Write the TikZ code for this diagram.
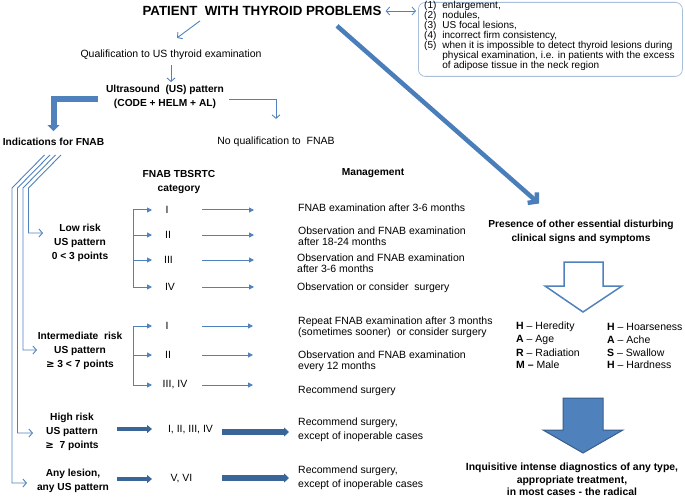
\documentclass[tikz,border=0pt]{standalone}
\usepackage{fontspec}
\setmainfont{Liberation Sans}
\usetikzlibrary{arrows.meta}
\definecolor{lb}{HTML}{4F81BD}
\definecolor{thickb}{HTML}{4A7EBB}
\definecolor{db}{HTML}{3A6598}
\definecolor{boxline}{HTML}{A9BFD9}
\definecolor{arrline}{HTML}{385D8A}
\begin{document}
\begin{tikzpicture}[x=1pt,y=-1pt,
  rt/.style={inner sep=0pt, font=\fontsize{10.5}{11}\selectfont, align=left},
  bt/.style={inner sep=0pt, font=\fontsize{10.2}{14}\selectfont\bfseries, align=center},
  lab/.style={inner sep=0pt, font=\fontsize{10.5}{11}\selectfont},
  tb/.style={draw=lb, line width=0.9pt, -{Straight Barb[length=3.5pt,width=8pt]}},
  br/.style={draw=lb, line width=1pt, -{Triangle[length=5pt,width=5pt]}},
  dsh/.style={draw=db, line width=4pt, -{Triangle[length=5pt,width=8pt]}},
  dlg/.style={draw=db, line width=6pt, -{Triangle[length=5pt,width=9pt]}},
]
\useasboundingbox (0,0) rectangle (685,497);

% title and box
\node[inner sep=0pt, font=\fontsize{13.3}{15}\selectfont\bfseries] (title) at (262,11) {PATIENT\ \ WITH THYROID PROBLEMS};
\node[draw=boxline, line width=0.8pt, rounded corners=7pt, minimum width=264pt, minimum height=74pt, anchor=north west, inner sep=0pt] (box) at (418,2) {};
\node[anchor=north west, inner sep=0pt] (boxtxt) at (424,1.5) {\fontsize{10}{8.7}\selectfont
\begin{tabular}{@{}l@{\hspace{6pt}}l@{}}
(1) & enlargement,\\
(2) & nodules,\\
(3) & US focal lesions,\\
(4) & incorrect firm consistency,\\
(5) & when it is impossible to detect thyroid lesions during\\
    & physical examination, i.e. in patients with the excess\\
    & of adipose tissue in the neck region
\end{tabular}};
\draw[draw=lb, line width=0.8pt, {Straight Barb[length=3.5pt,width=8pt]}-{Straight Barb[length=3.5pt,width=8pt]}]
  ([xshift=4pt]title.east) -- ([xshift=-2pt]box.west |- title.east);

% left top flow
\node[rt, align=center] (qual) at (171,55) {Qualification to US thyroid examination};
\node[bt] (us) at (165,97) {Ultrasound\ \ (US) pattern\\(CODE + HELM + AL)};
\node[bt] (ind) at (53.5,142) {Indications for FNAB};
\node[rt] (noq) at (276,142) {No qualification to\ \ FNAB};
\draw[tb] ([shift={(-62,5)}]title.south) -- ([shift={(6,-12)}]qual.north);
\draw[tb] ([shift={(0,5)}]qual.south) -- ([shift={(6,-3)}]us.north);
\draw[draw=lb, line width=6pt, -{Triangle[length=6pt,width=12pt]}] ([shift={(-8,2)}]us.west) -| ([shift={(0,-7)}]ind.north);
\draw[tb] ([shift={(5,2)}]us.east) -| ([shift={(0,-18)}]noq.north);

% column headers
\node[bt] (cat) at (179,182) {FNAB TBSRTC\\category};
\node[bt] (man) at (373,173) {Management};

% risk groups
\node[bt] (low) at (80,243) {Low risk\\US pattern\\0 < 3 points};
\node[bt] (mid) at (80,351) {Intermediate\ \ risk\\US pattern\\{\fontspec{DejaVu Sans}\bfseries ≥} 3 < 7 points};
\node[bt] (high) at (72,432) {High risk\\US pattern\\{\fontspec{DejaVu Sans}\bfseries ≥}\ \ 7 points};
\node[bt] (any) at (73,481) {Any lesion,\\any US pattern};

% four branching lines
\coordinate (lowin) at (43,233);
\coordinate (midin) at (37,350);
\coordinate (highin) at (33,433);
\coordinate (anyin) at (27,483);
\draw[tb] (61,155) -- (28.5,188) |- (lowin);
\draw[tb] (55.5,155) -- (23,188) |- (midin);
\draw[tb] (50,155) -- (17.5,188) |- (highin);
\draw[tb] (44.5,155) -- (12,188) |- (anyin);

% low risk rows
\node[lab] (l1) at (167,210) {I};
\node[lab] (l2) at (168,235) {II};
\node[lab] (l3) at (168.5,260) {III};
\node[lab] (l4) at (170,287) {IV};
\draw[draw=lb, line width=1pt] (133,210) -- (133,287);
\foreach \yy in {210,235,260,287} {\draw[br] (133,\yy) -- (152,\yy);}
\foreach \yy in {210,235,260,287} {\draw[br] (202,\yy) -- (254,\yy);}
\node[rt, anchor=west] (m1) at (298,208) {FNAB examination after 3-6 months};
\node[rt, anchor=west] (m2) at (298,236) {Observation and FNAB examination\\after 18-24 months};
\node[rt, anchor=west] (m3) at (297,263) {Observation and FNAB examination\\after 3-6 months};
\node[rt, anchor=west] (m4) at (297,288) {Observation or consider\ \ surgery};

% intermediate rows
\node[lab] (i1) at (167,326) {I};
\node[lab] (i2) at (168,355) {II};
\node[lab] (i3) at (175,385) {III, IV};
\draw[draw=lb, line width=1pt] (133,326) -- (133,385);
\foreach \yy in {326,355,385} {\draw[br] (133,\yy) -- (152,\yy);}
\foreach \yy in {326,355,385} {\draw[br] (202,\yy) -- (253,\yy);}
\node[rt, anchor=west] (n1) at (298,327.5) {Repeat FNAB examination after 3 months\\(sometimes sooner)\ \ or consider surgery};
\node[rt, anchor=west] (n2) at (298,361.5) {Observation and FNAB examination\\every 12 months};
\node[rt, anchor=west] (n3) at (298,391) {Recommend surgery};

% high risk / any lesion
\node[lab] (h1) at (190.5,430) {I, II, III, IV};
\node[lab] (a1) at (181.5,479) {V, VI};
\node[rt, anchor=west, font=\fontsize{10.5}{14}\selectfont] (hm) at (298,430) {Recommend surgery,\\except of inoperable cases};
\node[rt, anchor=west, font=\fontsize{10.5}{14}\selectfont] (am) at (298,478) {Recommend surgery,\\except of inoperable cases};
\draw[dsh] (117,429) -- (152,429);
\draw[dlg] (222,432) -- (289,432);
\draw[dsh] (117,479) -- (152,479);
\draw[dlg] (222,478) -- (289,478);

% right side
\node[bt] (pres) at (581,231.5) {Presence of other essential disturbing\\clinical signs and symptoms};
\draw[draw=thickb, line width=4.5pt, -{Straight Barb[length=6pt,width=14pt]}] ([shift={(75,10)}]title.south) -- ([shift={(-42,-16)}]pres.north);
\filldraw[draw=lb, fill=white, line width=1.5pt] (564,262) -- (603,262) -- (603,286) -- (622,286) -- (583,312) -- (545,286) -- (564,286) -- cycle;

\node[rt, anchor=west] (c1) at (516,327) {\textbf{H} -- Heredity};
\node[rt, anchor=west] (c2) at (516,340) {\textbf{A} -- Age};
\node[rt, anchor=west] (c3) at (516,352.5) {\textbf{R} -- Radiation};
\node[rt, anchor=west] (c4) at (516,365) {\textbf{M --} Male};
\node[rt, anchor=west] (d1) at (607,327) {\textbf{H} -- Hoarseness};
\node[rt, anchor=west] (d2) at (607,340) {\textbf{A} -- Ache};
\node[rt, anchor=west] (d3) at (607,352.5) {\textbf{S} -- Swallow};
\node[rt, anchor=west] (d4) at (607,365) {\textbf{H} -- Hardness};

\filldraw[draw=arrline, fill=lb, line width=1pt] (563,398) -- (603,398) -- (603,430) -- (623,430) -- (583,453) -- (543,430) -- (563,430) -- cycle;
\node[bt, font=\fontsize{10.4}{12.5}\selectfont\bfseries] (fin) at (572,479.5) {Inquisitive intense diagnostics of any type,\\appropriate treatment,\\in most cases - the radical};
\end{tikzpicture}
\end{document}
